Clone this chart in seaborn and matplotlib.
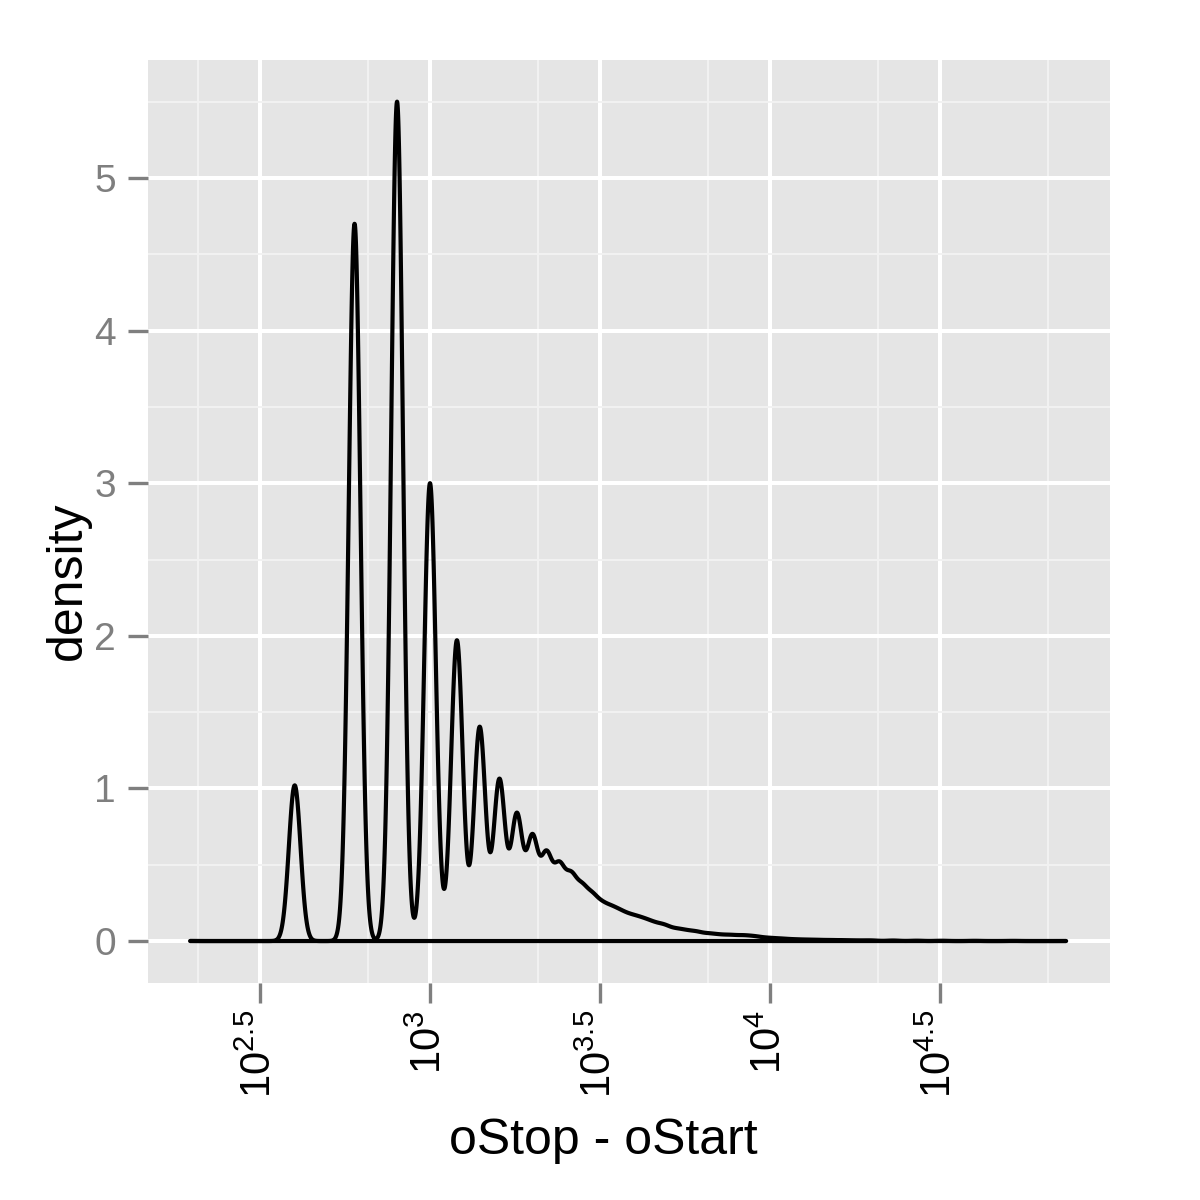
import numpy as np
import pandas as pd
import matplotlib
matplotlib.use("Agg")
import matplotlib.pyplot as plt
from matplotlib.ticker import NullFormatter
import seaborn as sns

# ---- data: fragment lengths (oStop - oStart) and relative counts
lengths = [197, 400, 600, 800, 1000, 1200, 1400, 1600, 1800, 2000, 2200,
           2400, 2600, 2800, 3000, 3200, 3400, 3600, 3800, 4000, 4200,
           4400, 4600, 4800, 5000, 5300, 5600, 5900, 6200, 6600, 7000,
           7400, 7800, 8300, 8800, 9300, 9900, 10500, 11100, 11800, 12500,
           13200, 14000, 15000, 16000, 17000, 18000, 19000, 20000, 23000,
           27000, 32000, 40000, 52000, 74300]
counts = [0.0005, 1.02, 4.70, 5.50, 3.00, 1.97, 1.40, 1.05, 0.81, 0.65, 0.52,
          0.43, 0.354, 0.274, 0.218, 0.163, 0.141, 0.119, 0.097, 0.0867, 0.0754,
          0.0651, 0.0533, 0.0468, 0.0508, 0.0491, 0.0411, 0.0338, 0.0343, 0.0323, 0.0263,
          0.0221, 0.0235, 0.0246, 0.0203, 0.0168, 0.0136, 0.0105, 0.0090, 0.0073, 0.0057,
          0.0052, 0.0052, 0.0048, 0.0038, 0.0030, 0.0023, 0.0019, 0.0029, 0.0031,
          0.0020, 0.0016, 0.0012, 0.0009, 0.0002]

x_tick_exponents = [2.5, 3.0, 3.5, 4.0, 4.5]
x_tick_labels = [r"$10^{2.5}$", r"$10^{3}$", r"$10^{3.5}$", r"$10^{4}$", r"$10^{4.5}$"]
y_ticks = [0, 1, 2, 3, 4, 5]
y_tick_labels = ["0", "1", "2", "3", "4", "5"]

# ---- style
sns.set_theme(style="darkgrid", rc={
    "axes.facecolor": "#E5E5E5",
    "grid.color": "white",
    "figure.facecolor": "white",
    "text.color": "black",
})
plt.rcParams["font.family"] = ["Liberation Sans", "DejaVu Sans"]
plt.rcParams["mathtext.fontset"] = "custom"
plt.rcParams["mathtext.rm"] = "Liberation Sans"
plt.rcParams["mathtext.it"] = "Liberation Sans:italic"
plt.rcParams["mathtext.bf"] = "Liberation Sans:bold"
plt.rcParams["mathtext.default"] = "regular"

W = H = 1200
fig = plt.figure(figsize=(12, 12), dpi=100)
ax = fig.add_axes([148 / W, 1 - 983 / H, (1110 - 148) / W, (983 - 60) / H])

df = pd.DataFrame({"length": lengths, "count": counts})
logv = np.log10(df["length"].to_numpy(float))
w = df["count"].to_numpy(float)
sd = np.sqrt(np.cov(logv, aweights=w))
bw = 1.0 / (np.sqrt(2 * np.pi) * w.sum())

sns.kdeplot(data=df, x="length", weights="count", log_scale=True,
            bw_method=bw / sd, cut=0, gridsize=5000, fill=True, color="black",
            facecolor="none", edgecolor="black", linewidth=3.0, ax=ax)

ax.set_xlim(10 ** 2.1706, 10 ** 5.0)
ax.set_ylim(-0.275, 5.773)

ax.set_xticks([10 ** e for e in x_tick_exponents], labels=x_tick_labels)
minor_x = [(10 ** a + 10 ** (a + 0.5)) / 2 for a in [2.0, 2.5, 3.0, 3.5, 4.0, 4.5]]
ax.set_xticks(minor_x, minor=True)
ax.xaxis.set_minor_formatter(NullFormatter())
ax.set_yticks(y_ticks, labels=y_tick_labels)
ax.set_yticks([v + 0.5 for v in y_ticks], minor=True)

ax.grid(which="major", color="white", linewidth=2.9)
ax.grid(which="minor", color="#F2F2F2", linewidth=1.4)
ax.set_axisbelow(True)
for s in ax.spines.values():
    s.set_visible(False)

ax.tick_params(which="major", axis="both", length=14.4, width=2.4, color="#7F7F7F",
               bottom=True, left=True, top=False, right=False)
ax.tick_params(which="minor", axis="both", length=0)
ax.tick_params(axis="y", labelsize=28, labelcolor="#7F7F7F", pad=8.6)
ax.tick_params(axis="x", labelsize=30, labelcolor="black", pad=5, labelrotation=90)
for lab in ax.get_xticklabels():
    lab.set_ha("center")
    lab.set_va("top")

ax.set_xlabel("")
ax.set_ylabel("")
fig.text(603 / W, 1 - 1141 / H, "oStop - oStart", ha="center", va="center",
         fontsize=36, color="black")
fig.text(68 / W, 1 - 581 / H, "density", ha="center", va="center", rotation=90,
         fontsize=36, color="black")

fig.savefig("out.png", dpi=100)
